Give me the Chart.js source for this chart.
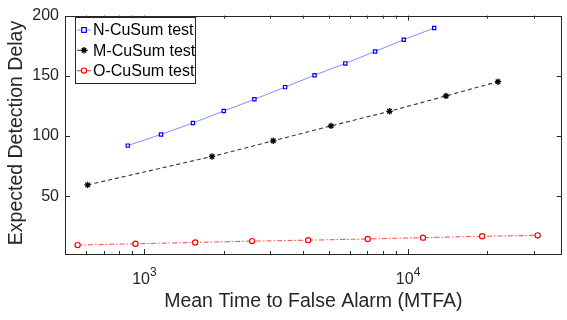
<!DOCTYPE html>
<html>
<head>
<meta charset="utf-8">
<title>CuSum detection delay vs MTFA</title>
<script src="https://cdn.jsdelivr.net/npm/chart.js@4.4.0/dist/chart.umd.min.js"></script>
<style>
    html, body { margin: 0; padding: 0; background: #fff; }
    #wrap { width: 567px; height: 320px; position: relative; }
</style>
</head>
<body>
<div id="wrap"><canvas id="delayChart" width="567" height="320"></canvas></div>
<script>
// values (x = MTFA, y = expected detection delay)
const nMtfa = [865, 1156, 1528, 2000, 2614, 3418, 4420, 5781, 7496, 9634, 12560];
const nDelay = [92, 101.3, 110.8, 120.8, 130.5, 140.6, 150.5, 160.3, 170.2, 180, 189.7];
const mMtfa = [609, 1806, 3081, 5104, 8505, 13930, 21930];
const mDelay = [59.4, 83, 96, 108.4, 120.5, 133.3, 145.1];
const oMtfa = [558, 925, 1559, 2562, 4182, 7031, 11390, 19090, 31000];
const oDelay = [9.4, 10.5, 11.6, 12.7, 13.5, 14.5, 15.6, 16.7, 17.5];

const seriesNames = ['N-CuSum test', 'M-CuSum test', 'O-CuSum test'];
const xMajorTicks = [1000, 10000];
const xMinorTicks = [600, 700, 800, 900, 2000, 3000, 4000, 5000, 6000, 7000, 8000, 9000, 20000, 30000];
const yTicks = [50, 100, 150, 200];

const xTitle = 'Mean Time to False Alarm (MTFA)';
const yTitle = 'Expected Detection Delay';

const AXIS_COLOR = '#262626';
const FONT = '"Liberation Sans", Arial, Helvetica, sans-serif';

function toPoints(xs, ys) {
    return xs.map((x, i) => ({ x: x, y: ys[i] }));
}

// draw one marker the way the series does
function drawMarker(ctx, ds, x, y) {
    const r = ds.pointRadius;
    ctx.save();
    ctx.strokeStyle = ds.pointBorderColor;
    ctx.lineWidth = ds.pointBorderWidth;
    ctx.setLineDash([]);
    ctx.beginPath();
    if (ds.pointStyle === 'rect') {
        ctx.fillStyle = '#fff';
        ctx.rect(x - r, y - r, r * 2, r * 2);
        ctx.fill();
    } else if (ds.pointStyle === 'circle') {
        ctx.fillStyle = '#fff';
        ctx.arc(x, y, r, 0, Math.PI * 2);
        ctx.fill();
    } else {
        const d = r * Math.SQRT1_2;
        ctx.moveTo(x - r, y); ctx.lineTo(x + r, y);
        ctx.moveTo(x, y - r); ctx.lineTo(x, y + r);
        ctx.moveTo(x - d, y - d); ctx.lineTo(x + d, y + d);
        ctx.moveTo(x - d, y + d); ctx.lineTo(x + d, y - d);
    }
    ctx.stroke();
    ctx.restore();
}

// MATLAB-like box, inward ticks, superscript labels, titles and legend
const matlabFrame = {
    id: 'matlabFrame',
    afterDraw(chart) {
        const ctx = chart.ctx;
        const area = chart.chartArea;
        const xs = chart.scales.x;
        const ys = chart.scales.y;

        ctx.save();
        ctx.strokeStyle = AXIS_COLOR;
        ctx.lineWidth = 1;
        ctx.strokeRect(Math.round(area.left) + 0.5, Math.round(area.top) + 0.5,
            Math.round(area.right - area.left) - 1, Math.round(area.bottom - area.top));

        ctx.beginPath();
        const xTick = (v, len) => {
            const px = Math.round(xs.getPixelForValue(v)) + 0.5;
            if (px < area.left || px > area.right) return;
            ctx.moveTo(px, area.bottom); ctx.lineTo(px, area.bottom - len);
            ctx.moveTo(px, area.top); ctx.lineTo(px, area.top + len);
        };
        xMajorTicks.forEach(v => xTick(v, 5));
        xMinorTicks.forEach(v => xTick(v, 3));
        yTicks.forEach(v => {
            const py = Math.round(ys.getPixelForValue(v)) + 0.5;
            ctx.moveTo(area.left, py); ctx.lineTo(area.left + 5, py);
            ctx.moveTo(area.right, py); ctx.lineTo(area.right - 5, py);
        });
        ctx.stroke();

        // x tick labels as 10^n
        ctx.fillStyle = AXIS_COLOR;
        ctx.textBaseline = 'alphabetic';
        xMajorTicks.forEach(v => {
            const px = xs.getPixelForValue(v);
            const base = '10';
            const exp = String(Math.round(Math.log10(v)));
            ctx.font = '16px ' + FONT;
            const wb = ctx.measureText(base).width;
            ctx.font = '12px ' + FONT;
            const we = ctx.measureText(exp).width;
            const x0 = px - (wb + we) / 2;
            ctx.font = '16px ' + FONT;
            ctx.textAlign = 'left';
            ctx.fillText(base, x0, 284);
            ctx.font = '12px ' + FONT;
            ctx.fillText(exp, x0 + wb, 276);
        });

        // axis titles
        ctx.font = '19.5px ' + FONT;
        ctx.textAlign = 'center';
        ctx.textBaseline = 'middle';
        ctx.fillText(xTitle, (area.left + area.right) / 2, 302);
        ctx.save();
        ctx.translate(17, 133);
        ctx.rotate(-Math.PI / 2);
        ctx.fillText(yTitle, 0, 0);
        ctx.restore();

        // legend box
        const lx = 75.5, ly = 17.5, lw = 120, lh = 66;
        ctx.fillStyle = '#fff';
        ctx.fillRect(lx, ly, lw, lh);
        ctx.strokeStyle = AXIS_COLOR;
        ctx.strokeRect(lx, ly, lw, lh);
        ctx.font = '16px ' + FONT;
        ctx.textAlign = 'left';
        ctx.textBaseline = 'middle';
        chart.data.datasets.forEach((ds, i) => {
            const cy = 30 + i * 20.3;
            ctx.save();
            ctx.strokeStyle = ds.borderColor;
            ctx.lineWidth = ds.borderWidth;
            ctx.setLineDash(ds.borderDash || []);
            ctx.beginPath();
            ctx.moveTo(77, cy); ctx.lineTo(91, cy);
            ctx.stroke();
            ctx.restore();
            drawMarker(ctx, ds, 84, cy);
            ctx.fillStyle = '#000';
            ctx.fillText(ds.label, 93, cy + 1);
        });
        ctx.restore();
    }
};

const chart = new Chart(document.getElementById('delayChart').getContext('2d'), {
    type: 'scatter',
    data: {
        datasets: [
            {
                label: seriesNames[0],
                data: toPoints(nMtfa, nDelay),
                showLine: true,
                borderColor: 'rgba(60, 60, 255, 0.6)',
                borderWidth: 1,
                pointStyle: 'rect',
                pointRadius: 2.3,
                pointBorderWidth: 1.2,
                pointBorderColor: '#0000ff',
                pointBackgroundColor: '#ffffff'
            },
            {
                label: seriesNames[1],
                data: toPoints(mMtfa, mDelay),
                showLine: true,
                borderColor: 'rgba(0, 0, 0, 0.8)',
                borderWidth: 1.1,
                borderDash: [4, 3],
                pointStyle: 'star',
                pointRadius: 3.2,
                pointBorderWidth: 1.3,
                pointBorderColor: '#000000',
                pointBackgroundColor: '#000000'
            },
            {
                label: seriesNames[2],
                data: toPoints(oMtfa, oDelay),
                showLine: true,
                borderColor: 'rgba(255, 0, 0, 0.65)',
                borderWidth: 1.1,
                borderDash: [5, 2, 1.5, 2],
                pointStyle: 'circle',
                pointRadius: 2.6,
                pointBorderWidth: 1.2,
                pointBorderColor: '#ff0000',
                pointBackgroundColor: '#ffffff'
            }
        ]
    },
    options: {
        responsive: false,
        animation: false,
        events: [],
        layout: { padding: { top: 10, right: 1, left: 0, bottom: 0 } },
        plugins: {
            legend: { display: false },
            tooltip: { enabled: false }
        },
        scales: {
            x: {
                type: 'logarithmic',
                min: 500,
                max: 38250,
                grid: { display: false, drawTicks: false },
                border: { display: false },
                ticks: { display: false },
                afterFit: s => { s.height = 66; }
            },
            y: {
                type: 'linear',
                min: 2,
                max: 200,
                grid: { display: false, drawTicks: false },
                border: { display: false },
                afterBuildTicks: s => { s.ticks = yTicks.map(v => ({ value: v })); },
                ticks: {
                    color: AXIS_COLOR,
                    padding: 6,
                    font: { family: FONT, size: 16 }
                },
                afterFit: s => { s.width = 65; }
            }
        }
    },
    plugins: [matlabFrame]
});
</script>
</body>
</html>
